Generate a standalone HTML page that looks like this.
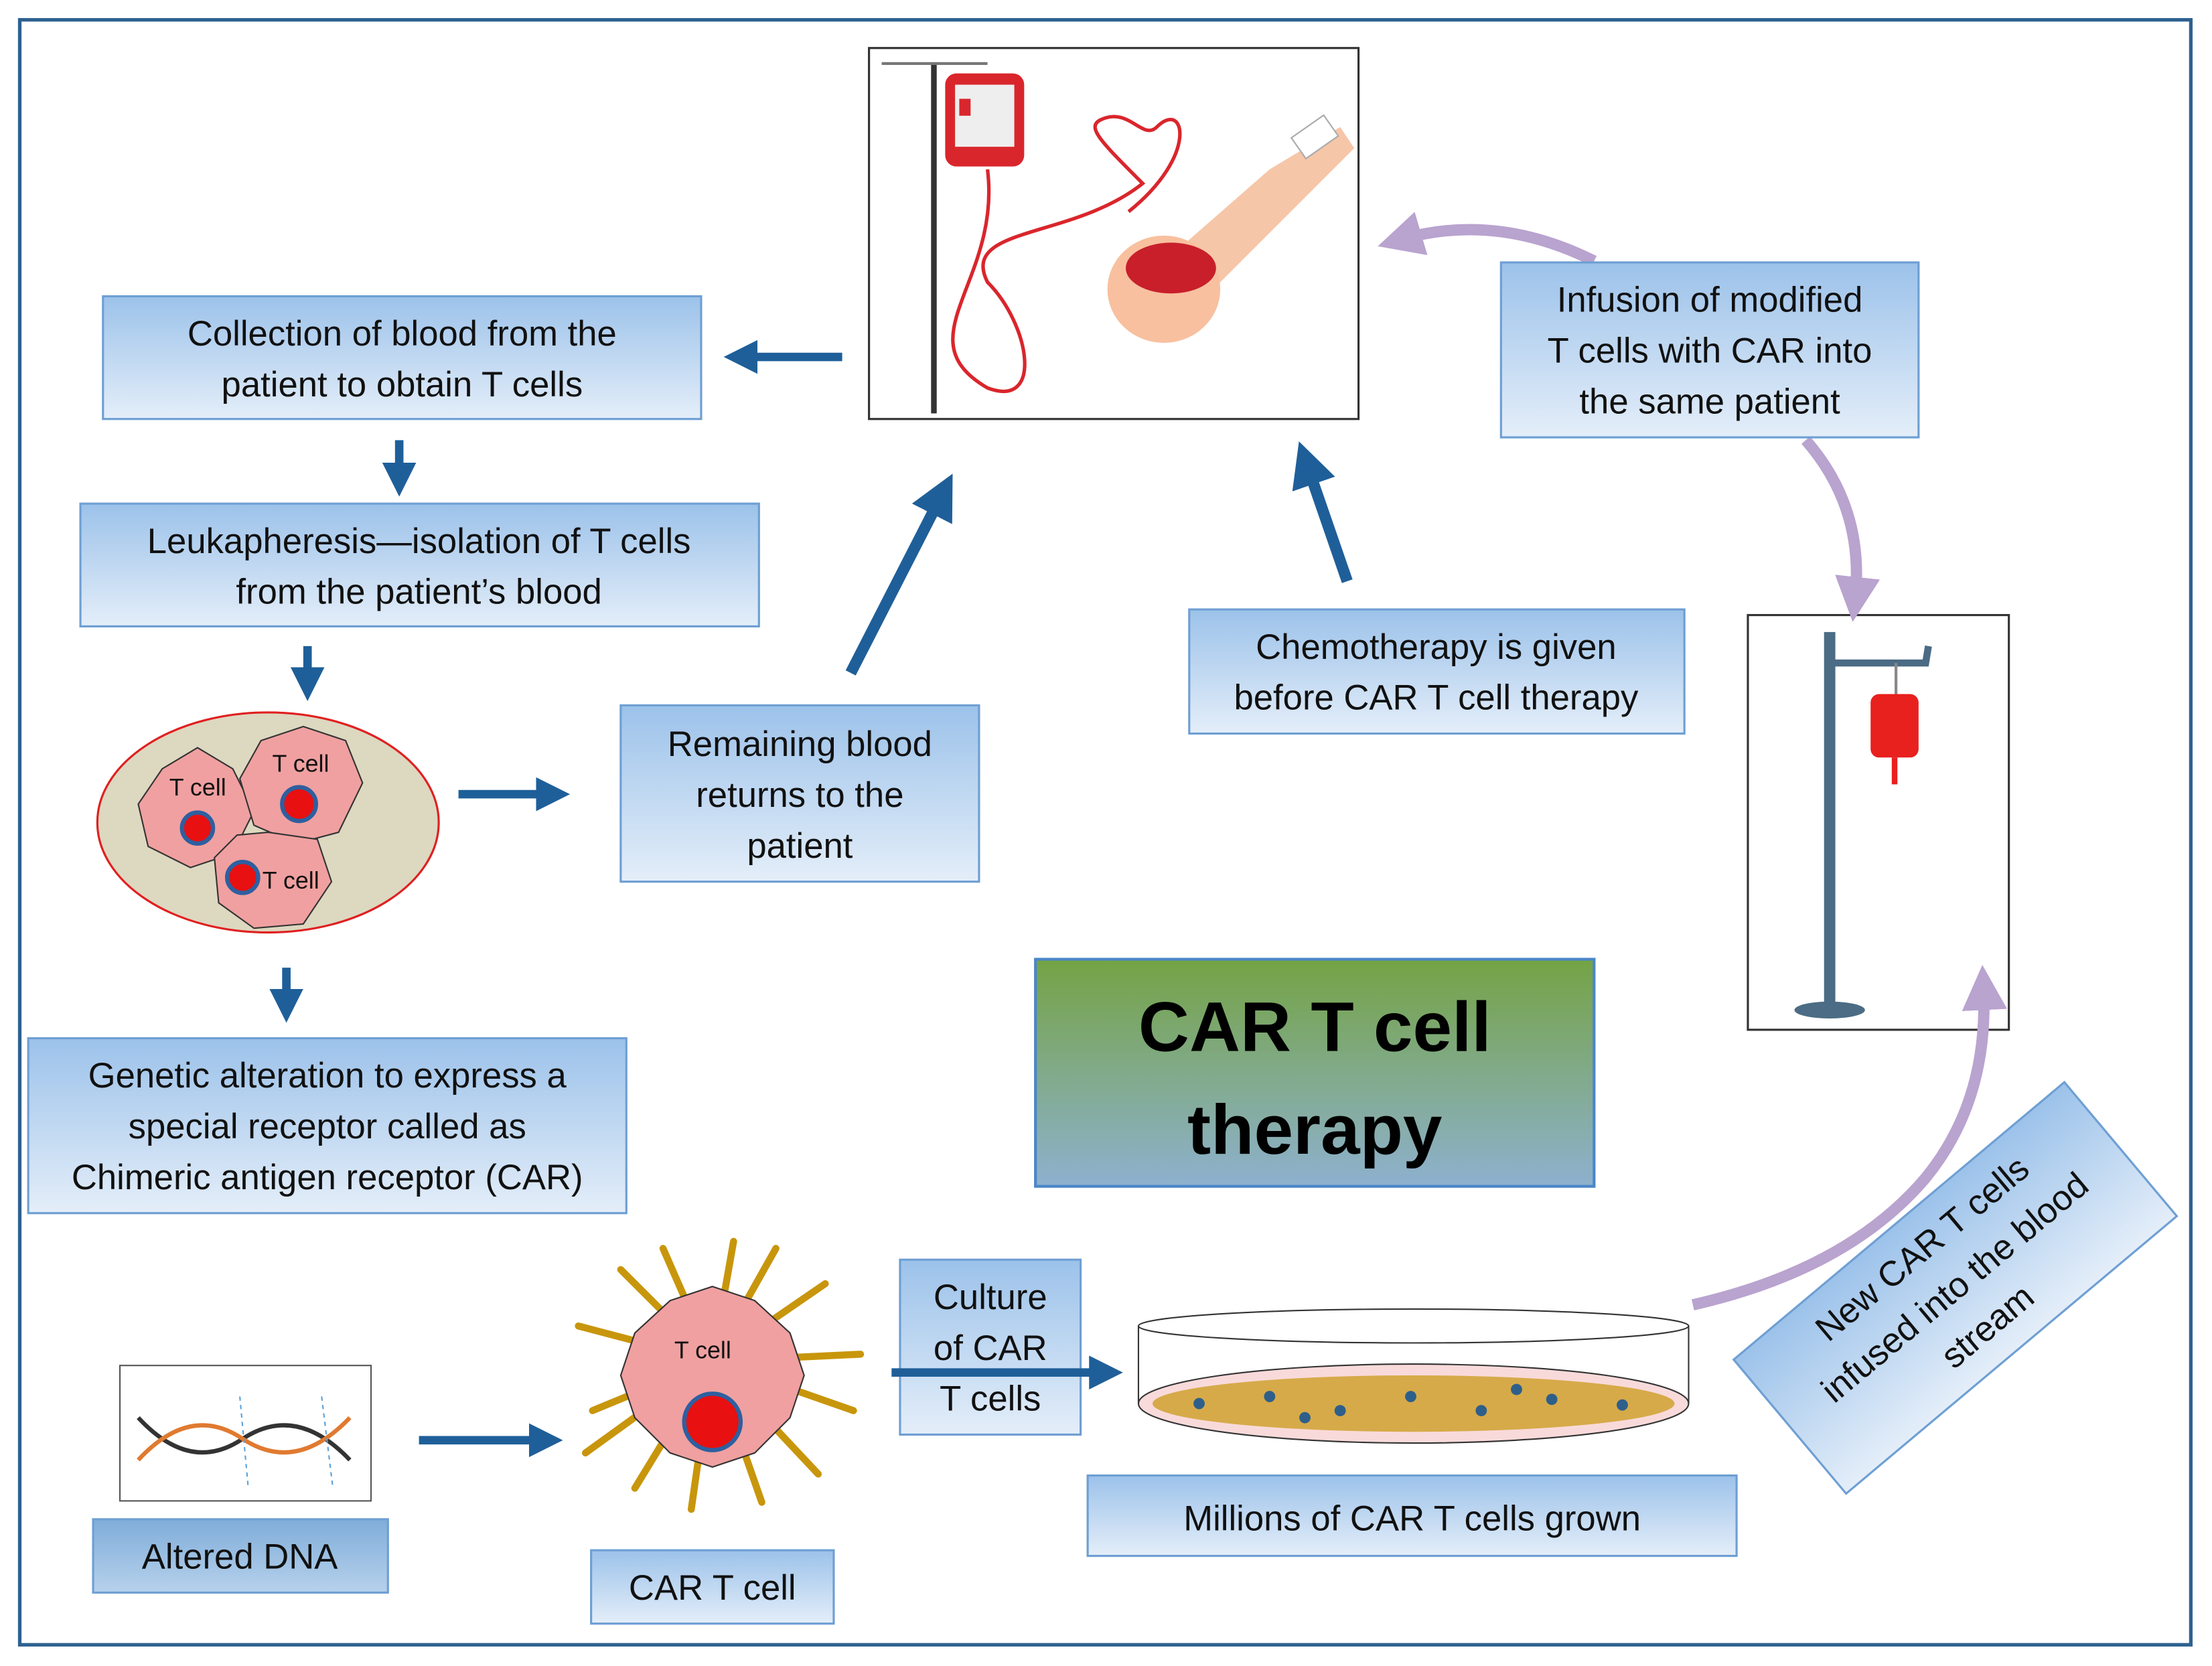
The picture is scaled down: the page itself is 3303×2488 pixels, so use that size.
<!DOCTYPE html>
<html><head><meta charset="utf-8">
<style>
html,body{margin:0;padding:0;background:#fff;}
svg{display:block;}
text{font-family:"Liberation Sans",sans-serif;}
</style></head>
<body>
<svg width="3303" height="2488" viewBox="0 0 1568 1181" xmlns="http://www.w3.org/2000/svg">
<defs>
<linearGradient id="bx" x1="0" y1="0" x2="0" y2="1">
<stop offset="0" stop-color="#9cc2ea"/><stop offset="1" stop-color="#e4eef9"/></linearGradient>
<linearGradient id="bx2" x1="0" y1="0" x2="0" y2="1">
<stop offset="0" stop-color="#7fadd9"/><stop offset="1" stop-color="#b7d1ec"/></linearGradient>
<linearGradient id="tt" x1="0" y1="0" x2="0" y2="1">
<stop offset="0" stop-color="#74a344"/><stop offset="1" stop-color="#8eb1cf"/></linearGradient>
<marker id="ah" markerWidth="4" markerHeight="4" refX="2" refY="2" orient="auto" markerUnits="strokeWidth">
<path d="M0,0 L4,2 L0,4 z" fill="#1f5f99"/></marker>
<marker id="ap" markerWidth="4" markerHeight="4" refX="2" refY="2" orient="auto" markerUnits="strokeWidth">
<path d="M0,0 L4,2 L0,4 z" fill="#b9a3cf"/></marker>
</defs>
<rect x="14" y="14" width="1539" height="1152" fill="none" stroke="#2e6190" stroke-width="2.5"/>

<!-- IV stand -->
<rect x="1239" y="436" width="185" height="294" fill="#fff" stroke="#333" stroke-width="1.5"/>
<line x1="1297" y1="448" x2="1297" y2="712" stroke="#4b6c84" stroke-width="8"/>
<path d="M1297,470 L1365,470 L1367,458" stroke="#4b6c84" stroke-width="5" fill="none"/>
<ellipse cx="1297" cy="716" rx="25" ry="6" fill="#4b6c84"/>
<line x1="1344" y1="470" x2="1344" y2="492" stroke="#888" stroke-width="2"/>
<rect x="1326" y="492" width="34" height="45" rx="6" fill="#e8201e"/>
<line x1="1343" y1="537" x2="1343" y2="556" stroke="#e8201e" stroke-width="4"/>

<!-- purple arrows -->
<g stroke="#b9a3cf" stroke-width="8" fill="none">
<path d="M1130,185 Q1060,150 992,170" marker-end="url(#ap)"/>
<path d="M1280,312 Q1322,360 1315,425" marker-end="url(#ap)"/>
<path d="M1200,925 Q1310,900 1365,835 Q1410,780 1406,700" marker-end="url(#ap)"/>
</g>

<g stroke="#6e9fd3" stroke-width="1.5">
<rect x="73" y="210" width="424" height="87" fill="url(#bx)"/>
<rect x="57" y="357" width="481" height="87" fill="url(#bx)"/>
<rect x="440" y="500" width="254" height="125" fill="url(#bx)"/>
<rect x="20" y="736" width="424" height="124" fill="url(#bx)"/>
<rect x="843" y="432" width="351" height="88" fill="url(#bx)"/>
<rect x="1064" y="186" width="296" height="124" fill="url(#bx)"/>
<rect x="771" y="1046" width="460" height="57" fill="url(#bx)"/>
<rect x="66" y="1077" width="209" height="52" fill="url(#bx2)"/>
<rect x="419" y="1099" width="172" height="52" fill="url(#bx)"/>
<rect x="638" y="893" width="128" height="124" fill="url(#bx)"/>
<g transform="translate(1386,913) rotate(-40)"><rect x="-153" y="-62" width="306" height="124" fill="url(#bx)"/></g>
</g>
<rect x="734" y="680" width="396" height="161" fill="url(#tt)" stroke="#4a86c8" stroke-width="2"/>
<text x="932" y="745" font-size="50" font-weight="bold" text-anchor="middle" fill="#000">CAR T cell</text>
<text x="932" y="818" font-size="50" font-weight="bold" text-anchor="middle" fill="#000">therapy</text>

<g font-size="25" fill="#111" text-anchor="middle">
<text x="285" y="245">Collection of blood from the</text>
<text x="285" y="281">patient to obtain T cells</text>
<text x="297" y="392">Leukapheresis—isolation of T cells</text>
<text x="297" y="428">from the patient’s blood</text>
<text x="567" y="536">Remaining blood</text>
<text x="567" y="572">returns to the</text>
<text x="567" y="608">patient</text>
<text x="232" y="771">Genetic alteration to express a</text>
<text x="232" y="807">special receptor called as</text>
<text x="232" y="843">Chimeric antigen receptor (CAR)</text>
<text x="1018" y="467">Chemotherapy is given</text>
<text x="1018" y="503">before CAR T cell therapy</text>
<text x="1212" y="221">Infusion of modified</text>
<text x="1212" y="257">T cells  with CAR into</text>
<text x="1212" y="293">the same patient</text>
<text x="1001" y="1085">Millions of CAR T cells grown</text>
<text x="170" y="1112">Altered DNA</text>
<text x="505" y="1134">CAR T cell</text>
<text x="702" y="928">Culture</text>
<text x="702" y="964">of CAR</text>
<text x="702" y="1000">T cells</text>
<g transform="translate(1386,913) rotate(-40)">
<text x="0" y="-28">New CAR T cells</text>
<text x="0" y="8">infused into the blood</text>
<text x="0" y="44">stream</text></g>
</g>

<!-- blue arrows -->
<g stroke="#1f5f99" stroke-width="6" fill="none">
<line x1="597" y1="253" x2="525" y2="253" marker-end="url(#ah)"/>
<line x1="283" y1="312" x2="283" y2="340" marker-end="url(#ah)"/>
<line x1="218" y1="458" x2="218" y2="485" marker-end="url(#ah)"/>
<line x1="325" y1="563" x2="392" y2="563" marker-end="url(#ah)"/>
<line x1="603" y1="477" x2="668" y2="350" stroke-width="8" marker-end="url(#ah)"/>
<line x1="203" y1="686" x2="203" y2="713" marker-end="url(#ah)"/>
<line x1="955" y1="412" x2="926" y2="328" stroke-width="8" marker-end="url(#ah)"/>
<line x1="297" y1="1021" x2="387" y2="1021" marker-end="url(#ah)"/>
<line x1="632" y1="973" x2="784" y2="973" marker-end="url(#ah)"/>
</g>

<!-- top picture -->
<rect x="616" y="34" width="347" height="263" fill="#fff" stroke="#333" stroke-width="1.5"/>
<line x1="662" y1="45" x2="662" y2="293" stroke="#333" stroke-width="4"/>
<path d="M625,45 L700,45" stroke="#777" stroke-width="2" fill="none"/>
<rect x="670" y="52" width="56" height="66" rx="8" fill="#d9262c"/>
<rect x="677" y="60" width="42" height="44" fill="#eee"/>
<rect x="680" y="70" width="8" height="12" fill="#d9262c"/>
<path d="M700,120 C710,200 640,240 700,275 C740,290 730,230 700,200 C680,160 760,170 810,130 C780,100 770,90 780,85 C800,75 810,100 820,90 C840,70 850,110 800,150" stroke="#d9262c" stroke-width="2.5" fill="none"/>
<path d="M820,190 L900,120 L950,90 L960,105 L915,150 L860,205 Z" fill="#f6c6a8"/>
<ellipse cx="825" cy="205" rx="40" ry="38" fill="#f8c09f"/>
<ellipse cx="830" cy="190" rx="32" ry="18" fill="#c81f2b"/>
<rect x="918" y="88" width="28" height="18" fill="#fff" stroke="#aaa" transform="rotate(-35 932 97)"/>

<!-- cell cluster -->
<ellipse cx="190" cy="583" rx="121" ry="78" fill="#ddd8c0" stroke="#e02020" stroke-width="1.5"/>
<g fill="#f0a0a0" stroke="#333" stroke-width="1">
<polygon points="140,530 165,545 180,575 165,605 135,615 105,600 98,570 115,545"/>
<polygon points="215,515 245,525 257,555 240,590 210,598 180,585 170,552 185,525"/>
<polygon points="190,590 225,595 235,625 215,655 180,658 155,640 152,608 168,592"/>
</g>
<g fill="#e81010" stroke="#2e5fa0" stroke-width="3">
<circle cx="140" cy="587" r="11"/><circle cx="212" cy="570" r="12"/><circle cx="172" cy="622" r="11"/></g>
<g font-size="17" fill="#111"><text x="120" y="564">T cell</text><text x="193" y="547">T cell</text><text x="186" y="630">T cell</text></g>

<!-- DNA -->
<rect x="85" y="968" width="178" height="96" fill="#fff" stroke="#555" stroke-width="1"/>
<path d="M98,1005 Q135,1045 172,1020 Q210,995 248,1035" stroke="#333" stroke-width="3" fill="none"/>
<path d="M98,1035 Q135,995 172,1020 Q210,1045 248,1005" stroke="#e07a30" stroke-width="3" fill="none"/>
<line x1="170" y1="990" x2="176" y2="1055" stroke="#5aa0d8" stroke-dasharray="3,3"/>
<line x1="228" y1="990" x2="236" y2="1055" stroke="#5aa0d8" stroke-dasharray="3,3"/>

<!-- CAR T cell -->
<g stroke="#c8960c" stroke-width="5" stroke-linecap="round">
<line x1="505" y1="965" x2="410" y2="940"/><line x1="505" y1="965" x2="420" y2="1000"/>
<line x1="505" y1="965" x2="440" y2="900"/><line x1="505" y1="965" x2="470" y2="885"/>
<line x1="505" y1="965" x2="520" y2="880"/><line x1="505" y1="965" x2="550" y2="885"/>
<line x1="505" y1="965" x2="585" y2="910"/><line x1="505" y1="965" x2="610" y2="960"/>
<line x1="505" y1="965" x2="605" y2="1000"/><line x1="505" y1="965" x2="580" y2="1045"/>
<line x1="505" y1="965" x2="540" y2="1065"/><line x1="505" y1="965" x2="490" y2="1070"/>
<line x1="505" y1="965" x2="450" y2="1055"/><line x1="505" y1="965" x2="415" y2="1030"/>
</g>
<polygon points="505,912 535,922 560,945 570,975 560,1005 535,1030 505,1040 475,1030 450,1005 440,975 450,945 475,922" fill="#f0a0a0" stroke="#333"/>
<circle cx="505" cy="1008" r="20" fill="#e81010" stroke="#2e5fa0" stroke-width="3"/>
<text x="478" y="963" font-size="17" fill="#111">T cell</text>

<!-- petri dish -->
<ellipse cx="1002" cy="995" rx="195" ry="28" fill="#f9dada" stroke="#333"/>
<ellipse cx="1002" cy="995" rx="185" ry="20" fill="#c8960c" opacity="0.7"/>
<g fill="#2e5f8a"><circle cx="850" cy="995" r="4"/><circle cx="900" cy="990" r="4"/><circle cx="950" cy="1000" r="4"/><circle cx="1000" cy="990" r="4"/><circle cx="1050" cy="1000" r="4"/><circle cx="1100" cy="992" r="4"/><circle cx="1150" cy="996" r="4"/><circle cx="925" cy="1005" r="4"/><circle cx="1075" cy="985" r="4"/></g>
<ellipse cx="1002" cy="940" rx="195" ry="12" fill="none" stroke="#333"/>
<line x1="807" y1="940" x2="807" y2="995" stroke="#333"/><line x1="1197" y1="940" x2="1197" y2="995" stroke="#333"/>
</svg>
</body></html>
